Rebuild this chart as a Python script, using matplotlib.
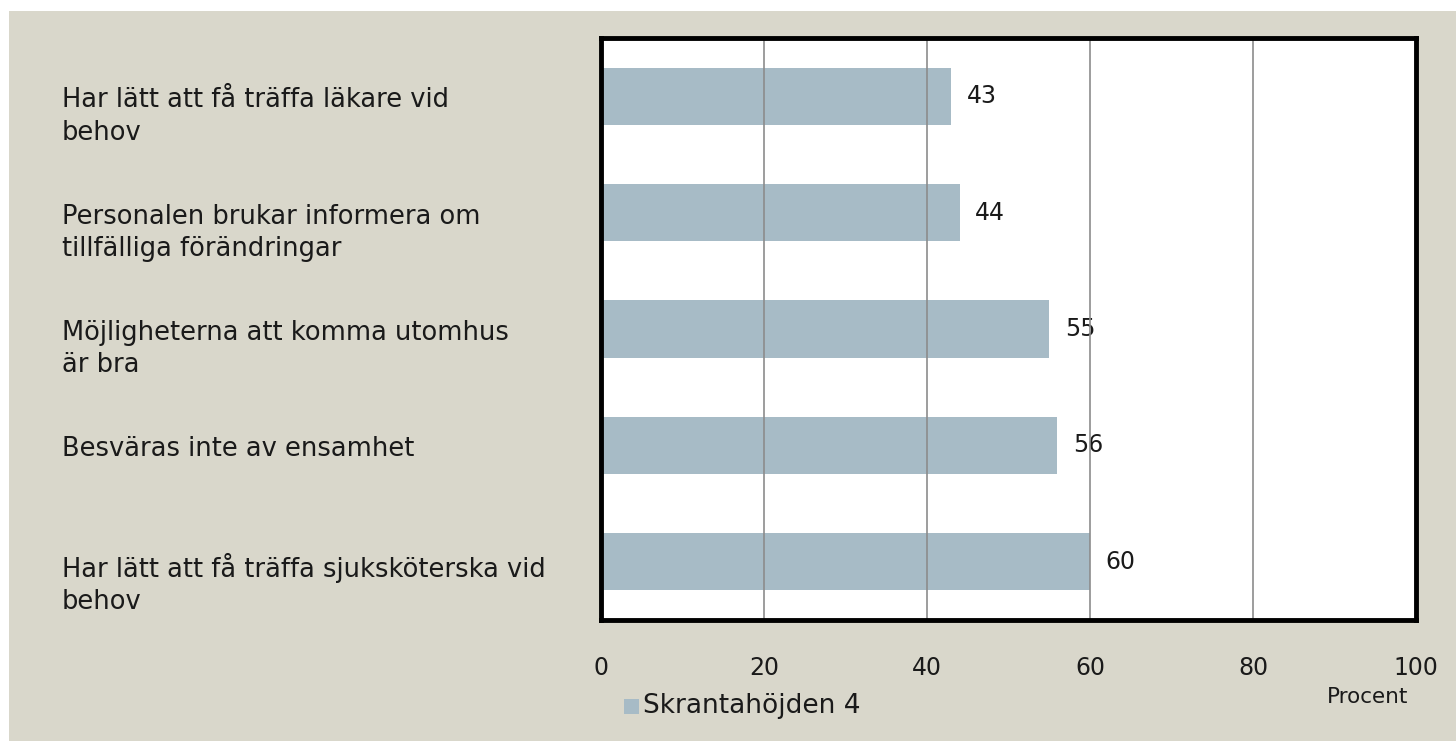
import matplotlib
matplotlib.use("Agg")
import matplotlib.pyplot as plt
from matplotlib.patches import Rectangle

categories = [
    "Har lätt att få träffa läkare vid\nbehov",
    "Personalen brukar informera om\ntillfälliga förändringar",
    "Möjligheterna att komma utomhus\när bra",
    "Besväras inte av ensamhet",
    "Har lätt att få träffa sjuksköterska vid\nbehov",
]
values = [43, 44, 55, 56, 60]
series_name = "Skrantahöjden 4"
xticks = [0, 20, 40, 60, 80, 100]

bg = "#d9d7cb"
bar_color = "#a7bbc6"
txt = "#1a1a1a"
plt.rcParams['font.family'] = ['DejaVu Sans']

W, H = 1456, 741
fig = plt.figure(figsize=(W / 100, H / 100), dpi=100, facecolor="white")
fig.patches.append(Rectangle((9 / W, 0), 1 - 9 / W, 1 - 11 / H, transform=fig.transFigure,
                             facecolor=bg, edgecolor="none", zorder=-10))

left, right, top, bottom = 601, 1416, 38, 620
ax = fig.add_axes([left / W, 1 - bottom / H, (right - left) / W, (bottom - top) / H])
ax.set_facecolor("white")

ypos = list(range(len(categories)))
ax.barh(ypos, values, height=0.49, color=bar_color, zorder=2)
ax.set_xlim(0, 100)
ax.set_ylim(len(categories) - 0.5, -0.5)

for y, v in zip(ypos, values):
    ax.text(v + 1.9, y, f"{v}", va="center", ha="left", fontsize=17, color=txt, zorder=1)

ax.set_xticks(xticks)
ax.set_xticklabels([str(t) for t in xticks], fontsize=17, color=txt)
ax.tick_params(axis="x", length=0, pad=26)
ax.set_yticks([])
ax.grid(axis="x", color="#8c8c8c", linewidth=1.2, zorder=3)
ax.set_axisbelow(False)
for s in ax.spines.values():
    s.set_linewidth(3.5)
    s.set_color("black")
    s.set_zorder(5)

fig.canvas.draw()
for y, c in zip(ypos, categories):
    yfig = ax.transData.transform((0, y))[1]
    fig.text(62 / W, (yfig + 9) / H, c, ha="left", va="top", fontsize=18.5,
             color=txt, linespacing=1.32)

fig.text(1408 / W, 1 - 697 / H, "Procent", ha="right", va="center", fontsize=15.5, color=txt)
fig.patches.append(Rectangle((624 / W, 1 - 714 / H), 15 / W, 15 / H, transform=fig.transFigure,
                             facecolor=bar_color, edgecolor="none"))
fig.text(643 / W, 1 - 706 / H, series_name, ha="left", va="center", fontsize=19, color=txt)

fig.savefig("out.png", dpi=100, facecolor="white")
